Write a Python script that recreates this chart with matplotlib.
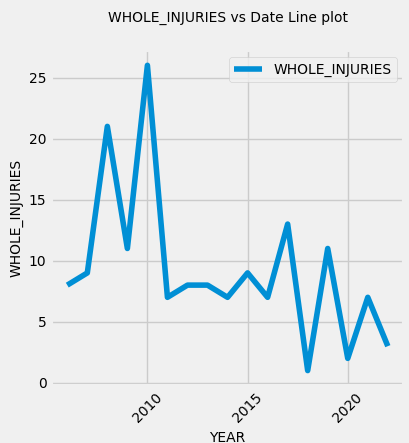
import matplotlib
matplotlib.use("Agg")
import matplotlib.pyplot as plt

years = [2006, 2007, 2008, 2009, 2010, 2011, 2012, 2013, 2014, 2015, 2016, 2017, 2018, 2019, 2020, 2021, 2022]
injuries = [8, 9, 21, 11, 26, 7, 8, 8, 7, 9, 7, 13, 1, 11, 2, 7, 3]

plt.style.use("fivethirtyeight")
fig, ax = plt.subplots(figsize=(4.1, 4.43), dpi=100)
ax.plot(years, injuries, label="WHOLE_INJURIES")
ax.set_title("WHOLE_INJURIES vs Date Line plot", fontsize=10, pad=20)
ax.set_xlabel("YEAR", fontsize=10)
ax.set_ylabel("WHOLE_INJURIES", fontsize=10)
ax.tick_params(labelsize=10)
ax.set_xticks([2010, 2015, 2020])
plt.xticks(rotation=45)
ax.legend(fontsize=10)
fig.subplots_adjust(left=0.125, right=0.985, top=0.887, bottom=0.129)
fig.savefig("out.png")
